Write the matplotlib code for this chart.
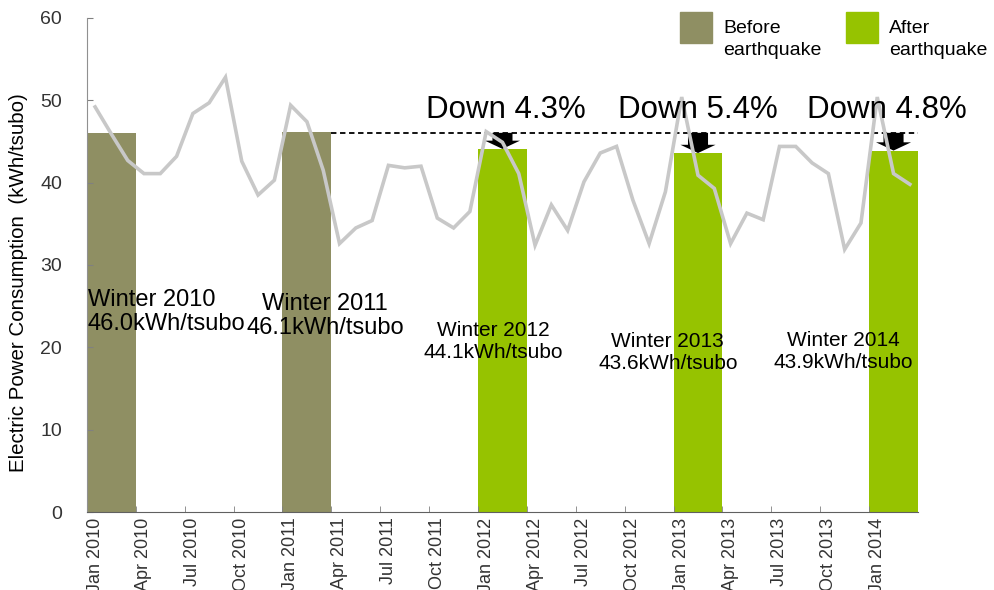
import matplotlib.pyplot as plt
import matplotlib.patches as patches

plt.rcParams['font.family'] = ['Liberation Sans', 'DejaVu Sans']

# monthly consumption, Jan 2010 .. Mar 2014 (kWh/tsubo)
monthly = [
    49.2, 45.9, 42.7, 41.1, 41.1, 43.2, 48.4, 49.7, 52.8, 42.6, 38.5, 40.3,
    49.4, 47.4, 41.5, 32.6, 34.5, 35.4, 42.1, 41.8, 42.0, 35.7, 34.5, 36.5,
    46.2, 44.9, 41.1, 32.4, 37.3, 34.2, 40.1, 43.6, 44.4, 37.9, 32.6, 38.9,
    50.4, 40.9, 39.3, 32.6, 36.3, 35.5, 44.4, 44.4, 42.4, 41.1, 31.9, 35.1,
    50.4, 41.1, 39.8,
]
tick_labels = [
    'Jan 2010', 'Apr 2010', 'Jul 2010', 'Oct 2010',
    'Jan 2011', 'Apr 2011', 'Jul 2011', 'Oct 2011',
    'Jan 2012', 'Apr 2012', 'Jul 2012', 'Oct 2012',
    'Jan 2013', 'Apr 2013', 'Jul 2013', 'Oct 2013',
    'Jan 2014',
]

# winter averages (Jan-Mar)
winters = ['Winter 2010', 'Winter 2011', 'Winter 2012', 'Winter 2013', 'Winter 2014']
winter_start = [0, 12, 24, 36, 48]
winter_avg = [46.0, 46.1, 44.1, 43.6, 43.9]
after_quake = [False, False, True, True, True]
down_labels = ['', '', 'Down 4.3%', 'Down 5.4%', 'Down 4.8%']

before_col = '#8F8F63'
after_col = '#96C300'
baseline = (winter_avg[0] + winter_avg[1]) / 2

fig = plt.figure(figsize=(9.95, 5.9), dpi=100)
ax = fig.add_axes([0.0874, 0.1322, 0.8352, 0.8373])

n = len(monthly)
centers = [s + 1 for s in winter_start]
cols = [after_col if a else before_col for a in after_quake]
ax.bar(centers, winter_avg, width=3, color=cols, zorder=1)

# dashed reference line from the end of the last "before" winter
ax.plot([winter_start[1] + 2.5, n - 0.5], [baseline, baseline], color='black',
        lw=1.3, dashes=(3, 2), zorder=3)

# block arrows and "Down x%" texts
down_dx = [0, 0, 0.2, 0.0, -0.4]
for c, v, lab, dx in zip(centers, winter_avg, down_labels, down_dx):
    if not lab:
        continue
    ax.arrow(c, baseline, 0, v - baseline, width=1.23, head_width=2.15,
             head_length=1.0, length_includes_head=True, color='black',
             lw=0, zorder=2)
    ax.text(c + dx, 47.9, lab, ha='center', va='baseline', fontsize=22.5, zorder=5)

ax.plot(range(n), monthly, color='#C8C8C8', lw=2.6, zorder=4,
        solid_joinstyle='miter')

# winter labels
lab_x = [-0.44, 14.13, 24.45, 35.15, 45.93]
lab_y = [24.3, 23.8, 20.65, 19.4, 19.55]
lab_fs = [17, 17, 15, 15, 15]
for i, name in enumerate(winters):
    txt = f'{name}\n{winter_avg[i]:.1f}kWh/tsubo'
    ha = 'left' if i == 0 else 'center'
    ax.text(lab_x[i], lab_y[i], txt, ha=ha, va='center', multialignment=ha,
            fontsize=lab_fs[i], linespacing=1.08 if lab_fs[i] == 17 else 1.2,
            zorder=5)

ax.set_xlim(-0.5, n - 0.5)
ax.set_ylim(0, 60)
ax.set_yticks(range(0, 61, 10))
ax.set_xticks([3 * i for i in range(len(tick_labels))])
ax.set_xticklabels(tick_labels, rotation=90, fontsize=13, color='#333333')
ax.set_xticks([3 * i - 0.5 for i in range(len(tick_labels))], minor=True)
ax.tick_params(axis='x', which='major', length=0, pad=4)
ax.tick_params(axis='x', which='minor', direction='in', length=4, color='#808080')
ax.tick_params(axis='y', direction='in', length=4, color='#808080', pad=18,
               labelsize=14, labelcolor='#333333')

for s in ['top', 'right']:
    ax.spines[s].set_visible(False)
ax.spines['left'].set_color('#909090')
ax.spines['bottom'].set_color('#606060')

ax.set_ylabel('Electric Power Consumption  (kWh/tsubo)', fontsize=14.8)
ax.yaxis.set_label_coords(-0.071, 0.465)

# legend drawn as figure patches
legend_items = [('Before\nearthquake', before_col, 680), ('After\nearthquake', after_col, 846)]
for text, col, x0 in legend_items:
    fig.patches.append(patches.Rectangle((x0 / 995, 1 - 43 / 590), 32 / 995, 31 / 590,
                                         transform=fig.transFigure, color=col))
    fig.text((x0 + 43) / 995, 1 - 20 / 590, text, ha='left', va='top',
             fontsize=14, linespacing=1.35)

fig.savefig('out.png', dpi=100)
